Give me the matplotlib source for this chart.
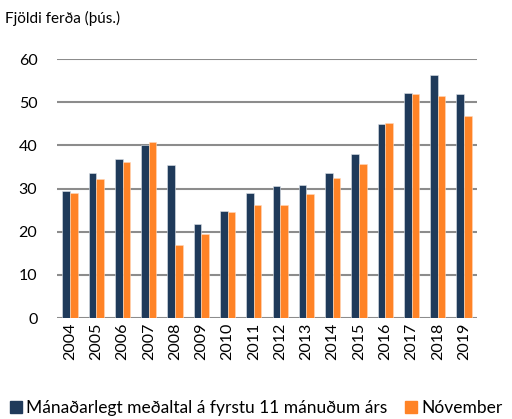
import numpy as np
import matplotlib.pyplot as plt
from matplotlib.patches import Patch

plt.rcParams['font.family'] = ['Lato', 'DejaVu Sans']

years = [str(y) for y in range(2004, 2020)]
avg_first_11 = [29.5, 33.7, 36.8, 40.0, 35.4, 21.7, 24.8, 28.9,
                30.6, 30.9, 33.7, 37.9, 44.9, 52.1, 56.2, 51.8]
november = [29.0, 32.2, 36.2, 40.9, 16.9, 19.5, 24.5, 26.1,
            26.2, 28.8, 32.4, 35.6, 45.1, 51.9, 51.4, 46.8]

NAVY = '#1f3a5a'
ORANGE = '#ff8326'

fig = plt.figure(figsize=(5.12, 4.19), dpi=100)
ax = fig.add_axes([0.111, 0.241, 0.821, 0.618])

x = np.arange(len(years))
w = 0.29
ax.bar(x - w / 2, avg_first_11, w, color=NAVY, edgecolor='#dfe4ea', linewidth=0.4, zorder=3)
ax.bar(x + w / 2, november, w, color=ORANGE, edgecolor='#ffd9bb', linewidth=0.4, zorder=3)

ax.set_xlim(-0.5, len(years) - 0.5)
ax.set_ylim(0, 60)
ax.set_yticks(range(0, 61, 10))
ax.yaxis.grid(True, color='#8c8c8c', linewidth=1.5, zorder=0)
ax.set_axisbelow(True)
for s in ax.spines.values():
    s.set_visible(False)
ax.tick_params(length=0, labelsize=11.5, colors='black')
ax.tick_params(axis='y', pad=14)
ax.set_xticks(x)
ax.set_xticklabels(years, rotation=90)

fig.text(0.01, 0.955, 'Fjöldi ferða (þús.)', fontsize=11, ha='left', va='center')

handles = [Patch(color=NAVY), Patch(color=ORANGE)]
fig.legend(handles, ['Mánaðarlegt meðaltal á fyrstu 11 mánuðum árs', 'Nóvember'],
           loc='center', bbox_to_anchor=(0.5, 0.027), ncol=2, frameon=False,
           fontsize=12.5, handlelength=0.7, handleheight=0.7, handletextpad=0.25,
           columnspacing=1.0)

fig.savefig('out.png', dpi=100)
